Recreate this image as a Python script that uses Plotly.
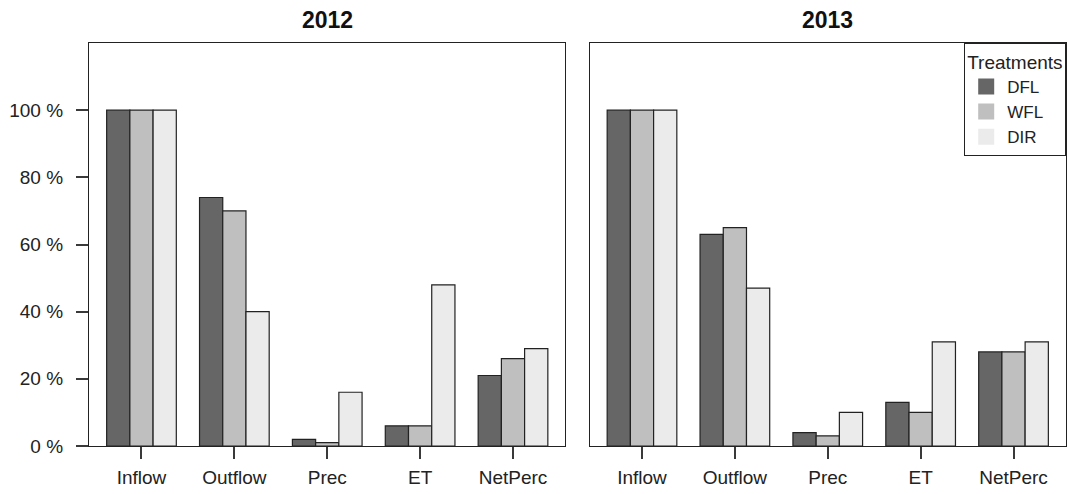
import plotly.graph_objects as go
from plotly.subplots import make_subplots

categories = ["Inflow", "Outflow", "Prec", "ET", "NetPerc"]
treatments = ["DFL", "WFL", "DIR"]
colors = ["#666666", "#bfbfbf", "#ebebeb"]

vals_2012 = {
    "DFL": [100, 74, 2, 6, 21],
    "WFL": [100, 70, 1, 6, 26],
    "DIR": [100, 40, 16, 48, 29],
}
vals_2013 = {
    "DFL": [100, 63, 4, 13, 28],
    "WFL": [100, 65, 3, 10, 28],
    "DIR": [100, 47, 10, 31, 31],
}
years = ["2012", "2013"]
ytick_vals = [0, 20, 40, 60, 80, 100]
ytick_text = ["0 %", "20 %", "40 %", "60 %", "80 %", "100 %"]

FONT = "Liberation Sans, Arial, Helvetica, sans-serif"
LINE = "#222222"
TICK = "#3a3a3a"
TICKLEN = 12

fig = make_subplots(rows=1, cols=2, horizontal_spacing=0.0246)

for col, data in enumerate([vals_2012, vals_2013], start=1):
    for t, c in zip(treatments, colors):
        fig.add_trace(
            go.Bar(
                x=categories, y=data[t], name=t, marker_color=c,
                marker_line=dict(color=LINE, width=1.2),
                showlegend=False, legendgroup=t,
            ),
            row=1, col=col,
        )

# legend proxies (square swatches)
for t, c in zip(treatments, colors):
    fig.add_trace(
        go.Scatter(x=[None], y=[None], mode="markers", name=t, legendgroup=t,
                   marker=dict(symbol="square", size=16, color=c, line=dict(width=0)),
                   showlegend=True),
        row=1, col=2,
    )

xax = dict(showline=True, mirror=True, linecolor=LINE, linewidth=1.3,
           showgrid=False, zeroline=False, range=[-0.565, 4.565],
           ticks="outside", ticklen=TICKLEN, tickwidth=2, tickcolor=TICK,
           tickfont=dict(size=19, color=LINE), ticklabelstandoff=2)
yax1 = dict(showline=True, mirror=True, linecolor=LINE, linewidth=1.3,
            showgrid=False, zeroline=False, range=[0, 120],
            tickmode="array", tickvals=ytick_vals, ticktext=ytick_text,
            ticks="outside", ticklen=TICKLEN, tickcolor=TICK, tickwidth=2,
            ticklabelstandoff=9,
            tickfont=dict(size=19, color=LINE))
yax2 = dict(showline=True, mirror=True, linecolor=LINE, linewidth=1.3,
            showgrid=False, zeroline=False, range=[0, 120],
            showticklabels=False, ticks="")

fig.update_layout(
    xaxis=xax, xaxis2=xax, yaxis=yax1, yaxis2=yax2,
    width=1069, height=494,
    margin=dict(l=89, r=3, t=43, b=48),
    barmode="group", bargap=0.25, bargroupgap=0,
    plot_bgcolor="white", paper_bgcolor="white",
    font=dict(family=FONT, size=19, color=LINE),
    legend=dict(
        title=dict(text="Treatments", font=dict(size=19)),
        x=1, xanchor="right", y=1, yanchor="top",
        xref="paper", yref="paper",
        bordercolor=LINE, borderwidth=1.2, bgcolor="white",
        font=dict(size=17), itemsizing="trace", itemwidth=32,
        tracegroupgap=0,
    ),
    annotations=[
        dict(text="<b>" + years[0] + "</b>", x=0.5, xref="x domain", y=1, yref="y domain",
             yanchor="bottom", yshift=8, showarrow=False, font=dict(size=23, color="#111111")),
        dict(text="<b>" + years[1] + "</b>", x=0.5, xref="x2 domain", y=1, yref="y2 domain",
             yanchor="bottom", yshift=8, showarrow=False, font=dict(size=23, color="#111111")),
    ],
)

fig.write_html("out.html")
